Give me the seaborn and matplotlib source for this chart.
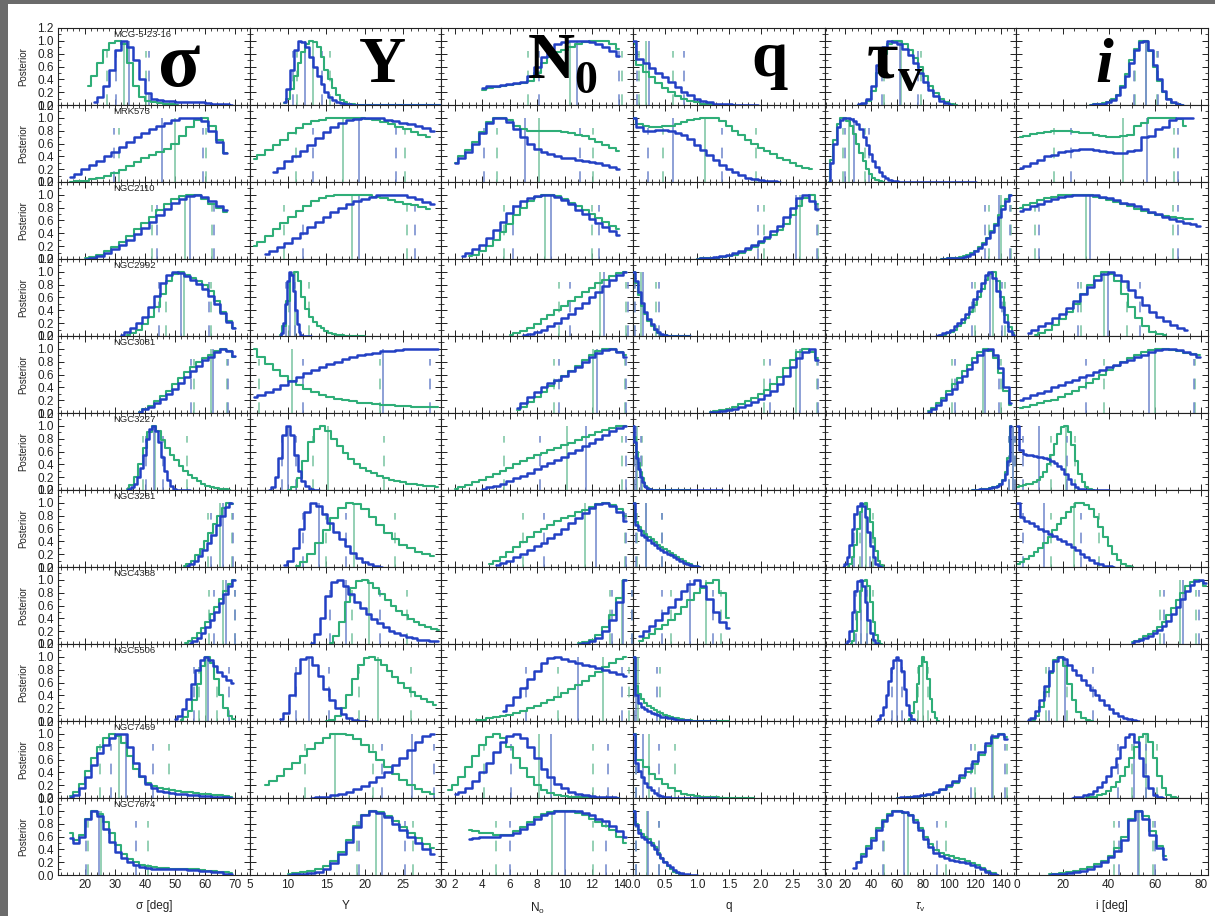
import matplotlib
matplotlib.use("Agg")
import matplotlib.pyplot as plt
import pandas as pd
import seaborn as sns
from matplotlib.patches import Rectangle
from matplotlib.ticker import MultipleLocator, FormatStrFormatter

GALAXIES = ["MCG-5-23-16", "MRK573", "NGC2110", "NGC2992", "NGC3081", "NGC3227",
            "NGC3281", "NGC4388", "NGC5506", "NGC7469", "NGC7674"]

AXIS_TITLES = ["σ [deg]", "Y", r"N$_{\rm o}$", "q", r"$\tau_{\rm v}$", "i [deg]"]

# Each histogram: (first bin centre, bin width, normalised heights, optional flat-tail end)
SIGMA_BLUE = [
    (23, 2, [0.05, 0.12, 0.3, 0.55, 0.85, 1.0, 0.9, 0.7, 0.4, 0.18, 0.1, 0.08, 0.07, 0.06, 0.05, 0.05, 0.04, 0.04, 0.04, 0.03, 0.02, 0.01, 0.01, 0.0], None),
    (15, 2.5, [0.08, 0.12, 0.2, 0.26, 0.32, 0.4, 0.47, 0.55, 0.62, 0.7, 0.77, 0.83, 0.88, 0.92, 0.96, 0.99, 1.0, 0.99, 0.95, 0.8, 0.62, 0.45], None),
    (20, 2.5, [0.0, 0.02, 0.05, 0.09, 0.15, 0.22, 0.3, 0.39, 0.48, 0.58, 0.68, 0.78, 0.87, 0.93, 0.98, 1.0, 0.97, 0.9, 0.83, 0.76], None),
    (32, 2, [0.02, 0.06, 0.12, 0.2, 0.3, 0.45, 0.63, 0.82, 0.95, 1.0, 0.98, 0.93, 0.88, 0.81, 0.73, 0.63, 0.5, 0.36, 0.22, 0.13], None),
    (38, 2, [0.02, 0.06, 0.1, 0.16, 0.22, 0.3, 0.38, 0.47, 0.56, 0.65, 0.74, 0.82, 0.88, 0.95, 1.0, 0.97, 0.89], None),
    (34, 1, [0.0, 0.02, 0.05, 0.1, 0.2, 0.35, 0.55, 0.8, 0.95, 1.0, 0.92, 0.75, 0.52, 0.3, 0.15, 0.06, 0.02, 0.0], 55),
    (54, 1.5, [0.02, 0.05, 0.1, 0.17, 0.26, 0.37, 0.5, 0.65, 0.8, 0.93, 1.0], None),
    (55, 1.5, [0.02, 0.05, 0.1, 0.17, 0.26, 0.37, 0.5, 0.64, 0.78, 0.9, 1.0], None),
    (50, 1.5, [0.03, 0.08, 0.18, 0.35, 0.58, 0.8, 0.95, 1.0, 0.95, 0.86, 0.77, 0.7, 0.64, 0.6], None),
    (15, 2, [0.01, 0.05, 0.15, 0.32, 0.52, 0.7, 0.83, 0.93, 0.99, 1.0, 0.8, 0.55, 0.35, 0.22, 0.15, 0.11, 0.09, 0.08, 0.07, 0.06, 0.05, 0.04, 0.03, 0.03, 0.02, 0.01, 0.01, 0.0], None),
    (15, 2, [0.58, 0.5, 0.6, 0.88, 1.0, 0.92, 0.72, 0.52, 0.36, 0.26, 0.2, 0.16, 0.13, 0.11, 0.1, 0.1, 0.1, 0.09, 0.09, 0.09, 0.08, 0.08, 0.07, 0.06, 0.05, 0.04, 0.02, 0.01], None),
]
SIGMA_GREEN = [
    (21, 2, [0.3, 0.45, 0.65, 0.85, 0.97, 1.0, 0.95, 0.65, 0.3, 0.12, 0.06, 0.04, 0.03, 0.02, 0.01, 0.0], None),
    (15, 2.5, [0.0, 0.01, 0.02, 0.04, 0.07, 0.1, 0.14, 0.19, 0.25, 0.31, 0.37, 0.42, 0.47, 0.52, 0.6, 0.72, 0.85, 0.97, 1.0, 0.88, 0.65, 0.45], None),
    (20, 2.5, [0.01, 0.03, 0.07, 0.12, 0.19, 0.27, 0.36, 0.46, 0.56, 0.66, 0.76, 0.85, 0.93, 0.98, 1.0, 0.99, 0.93, 0.86, 0.8, 0.74], None),
    (34, 2, [0.02, 0.05, 0.1, 0.18, 0.3, 0.45, 0.65, 0.85, 0.97, 1.0, 0.95, 0.9, 0.85, 0.79, 0.7, 0.55, 0.38, 0.23, 0.13], None),
    (38, 2, [0.02, 0.06, 0.11, 0.18, 0.26, 0.35, 0.45, 0.55, 0.64, 0.72, 0.8, 0.86, 0.9, 0.96, 1.0, 0.96, 0.88], None),
    (34, 1.5, [0.02, 0.08, 0.2, 0.4, 0.65, 0.9, 1.0, 0.92, 0.78, 0.65, 0.55, 0.46, 0.38, 0.3, 0.24, 0.19, 0.14, 0.1, 0.07, 0.05, 0.03, 0.02, 0.01, 0.0], None),
    (53, 1.5, [0.02, 0.05, 0.1, 0.18, 0.28, 0.4, 0.53, 0.67, 0.8, 0.92, 1.0, 0.98], None),
    (53.5, 1.5, [0.02, 0.05, 0.1, 0.17, 0.25, 0.35, 0.46, 0.58, 0.7, 0.82, 0.93, 1.0], None),
    (52, 1.5, [0.02, 0.06, 0.15, 0.32, 0.58, 0.85, 1.0, 0.9, 0.65, 0.4, 0.2, 0.08, 0.03], None),
    (15, 2, [0.03, 0.1, 0.22, 0.42, 0.63, 0.8, 0.93, 1.0, 0.97, 0.85, 0.65, 0.45, 0.32, 0.24, 0.19, 0.16, 0.14, 0.12, 0.11, 0.1, 0.09, 0.08, 0.07, 0.06, 0.05, 0.04, 0.03, 0.02], None),
    (15, 2, [0.65, 0.55, 0.62, 0.88, 1.0, 0.95, 0.82, 0.65, 0.47, 0.33, 0.25, 0.2, 0.16, 0.14, 0.12, 0.11, 0.11, 0.1, 0.1, 0.1, 0.1, 0.09, 0.08, 0.07, 0.06, 0.05, 0.04, 0.03], None),
]

Y_BLUE = [
    (9.5, 0.5, [0.05, 0.25, 0.55, 0.85, 1.0, 0.98, 0.9, 0.75, 0.6, 0.45, 0.32, 0.2, 0.13, 0.08, 0.05, 0.03, 0.02, 0.01, 0.0], 30),
    (8, 1, [0.15, 0.22, 0.32, 0.4, 0.48, 0.58, 0.68, 0.78, 0.86, 0.92, 0.96, 0.98, 1.0, 1.0, 0.99, 0.97, 0.95, 0.92, 0.9, 0.87, 0.84, 0.8], None),
    (7, 1, [0.08, 0.12, 0.18, 0.25, 0.33, 0.41, 0.5, 0.58, 0.66, 0.74, 0.8, 0.86, 0.9, 0.94, 0.97, 0.99, 1.0, 1.0, 0.99, 0.96, 0.93, 0.89, 0.85], None),
    (9, 0.25, [0.0, 0.05, 0.2, 0.5, 0.85, 1.0, 0.95, 0.7, 0.4, 0.18, 0.07, 0.02, 0.0], 13),
    (5.5, 1, [0.25, 0.28, 0.32, 0.37, 0.43, 0.5, 0.56, 0.62, 0.67, 0.72, 0.76, 0.8, 0.84, 0.87, 0.9, 0.92, 0.94, 0.96, 0.97, 0.98, 0.99, 0.99, 1.0, 1.0, 1.0], None),
    (7.5, 0.5, [0.0, 0.05, 0.2, 0.5, 0.85, 1.0, 0.85, 0.55, 0.3, 0.14, 0.06, 0.02, 0.0], 14),
    (9.5, 0.75, [0.03, 0.1, 0.3, 0.6, 0.85, 1.0, 0.95, 0.82, 0.68, 0.55, 0.43, 0.32, 0.22, 0.14, 0.08, 0.04, 0.02, 0.0], None),
    (13, 0.75, [0.02, 0.15, 0.4, 0.75, 0.97, 1.0, 0.9, 0.78, 0.66, 0.56, 0.47, 0.39, 0.32, 0.26, 0.21, 0.17, 0.14, 0.11, 0.09, 0.07, 0.06, 0.05, 0.04], None),
    (9, 0.75, [0.03, 0.12, 0.4, 0.75, 0.97, 1.0, 0.88, 0.7, 0.5, 0.33, 0.2, 0.11, 0.05, 0.02, 0.0, 0.0], None),
    (13, 1, [0.0, 0.01, 0.02, 0.04, 0.07, 0.1, 0.14, 0.19, 0.25, 0.32, 0.41, 0.52, 0.63, 0.75, 0.87, 0.96, 1.0], None),
    (10, 1, [0.0, 0.01, 0.02, 0.03, 0.05, 0.1, 0.18, 0.32, 0.52, 0.75, 0.93, 1.0, 0.97, 0.9, 0.8, 0.7, 0.6, 0.5, 0.41, 0.33], None),
]
Y_GREEN = [
    (9.5, 0.5, [0.03, 0.1, 0.25, 0.45, 0.65, 0.82, 0.95, 1.0, 0.98, 0.9, 0.75, 0.55, 0.4, 0.26, 0.15, 0.08, 0.04, 0.02, 0.01, 0.0], 30),
    (5.5, 1, [0.36, 0.42, 0.5, 0.58, 0.66, 0.76, 0.84, 0.9, 0.95, 0.97, 0.99, 1.0, 1.0, 1.0, 0.99, 0.98, 0.96, 0.93, 0.9, 0.86, 0.82, 0.78, 0.74, 0.7], None),
    (5.5, 1, [0.2, 0.27, 0.36, 0.46, 0.56, 0.66, 0.75, 0.83, 0.9, 0.95, 0.98, 1.0, 1.0, 1.0, 1.0, 0.99, 0.97, 0.95, 0.92, 0.89, 0.86, 0.84, 0.81, 0.78], None),
    (9, 0.5, [0.02, 0.15, 0.55, 0.95, 1.0, 0.85, 0.6, 0.42, 0.3, 0.22, 0.16, 0.12, 0.08, 0.05, 0.03, 0.02, 0.01, 0.0], 20),
    (5.5, 1, [1.0, 0.88, 0.77, 0.67, 0.58, 0.5, 0.43, 0.37, 0.32, 0.28, 0.25, 0.22, 0.2, 0.18, 0.16, 0.15, 0.14, 0.13, 0.12, 0.11, 0.11, 0.1, 0.1, 0.1, 0.1], None),
    (10, 0.75, [0.0, 0.05, 0.18, 0.45, 0.75, 0.95, 1.0, 0.92, 0.8, 0.68, 0.57, 0.48, 0.41, 0.35, 0.3, 0.26, 0.22, 0.19, 0.16, 0.14, 0.12, 0.1, 0.09, 0.08, 0.07, 0.06, 0.05], None),
    (11, 1, [0.02, 0.08, 0.2, 0.38, 0.58, 0.77, 0.92, 1.0, 0.98, 0.9, 0.78, 0.65, 0.53, 0.43, 0.35, 0.29, 0.24, 0.2, 0.17], None),
    (15.5, 0.75, [0.02, 0.12, 0.35, 0.65, 0.88, 0.98, 1.0, 0.95, 0.87, 0.78, 0.69, 0.6, 0.52, 0.45, 0.39, 0.34, 0.3, 0.27, 0.24, 0.22], None),
    (15, 0.75, [0.0, 0.02, 0.08, 0.2, 0.4, 0.65, 0.88, 0.98, 1.0, 0.95, 0.87, 0.78, 0.69, 0.6, 0.52, 0.45, 0.39, 0.34, 0.29, 0.25], None),
    (7, 1, [0.2, 0.27, 0.35, 0.45, 0.55, 0.66, 0.76, 0.86, 0.94, 0.99, 1.0, 0.98, 0.92, 0.83, 0.72, 0.6, 0.48, 0.37, 0.28, 0.2, 0.14, 0.1, 0.07], None),
    (10, 1, [0.02, 0.03, 0.04, 0.06, 0.09, 0.14, 0.22, 0.36, 0.55, 0.77, 0.93, 1.0, 0.98, 0.92, 0.84, 0.75, 0.66, 0.57, 0.49, 0.42], None),
]

N0_BLUE = [
    (4, 0.5, [0.27, 0.29, 0.3, 0.31, 0.33, 0.34, 0.36, 0.45, 0.6, 0.75, 0.88, 0.95, 0.98, 1.0, 1.0, 1.0, 0.98, 0.95, 0.9, 0.84, 0.76], None),
    (2, 0.5, [0.3, 0.38, 0.47, 0.6, 0.76, 0.92, 1.0, 1.0, 0.93, 0.82, 0.7, 0.6, 0.52, 0.47, 0.43, 0.4, 0.38, 0.37, 0.35, 0.33, 0.31, 0.29, 0.27, 0.24, 0.21], None),
    (2.5, 0.5, [0.05, 0.1, 0.15, 0.22, 0.32, 0.45, 0.58, 0.72, 0.83, 0.9, 0.95, 0.98, 1.0, 1.0, 0.97, 0.92, 0.85, 0.77, 0.7, 0.63, 0.56, 0.5, 0.44, 0.38], None),
    (7, 0.5, [0.01, 0.03, 0.06, 0.1, 0.15, 0.21, 0.28, 0.35, 0.43, 0.52, 0.6, 0.69, 0.78, 0.87, 0.95, 1.0], None),
    (6.5, 0.5, [0.08, 0.15, 0.25, 0.33, 0.4, 0.46, 0.52, 0.58, 0.65, 0.72, 0.8, 0.88, 0.94, 0.98, 1.0, 0.95, 0.88], None),
    (4, 0.5, [0.02, 0.04, 0.07, 0.1, 0.14, 0.18, 0.22, 0.27, 0.32, 0.37, 0.42, 0.47, 0.52, 0.57, 0.62, 0.68, 0.74, 0.8, 0.86, 0.92, 0.97, 1.0], None),
    (5, 0.5, [0.03, 0.06, 0.1, 0.15, 0.2, 0.26, 0.32, 0.38, 0.45, 0.52, 0.6, 0.68, 0.76, 0.84, 0.92, 0.98, 1.0, 0.95, 0.85, 0.72], None),
    (11, 0.5, [0.0, 0.02, 0.05, 0.1, 0.2, 0.38, 0.65, 1.0], None),
    (5.5, 0.5, [0.15, 0.25, 0.38, 0.52, 0.65, 0.78, 0.9, 0.98, 1.0, 0.97, 0.94, 0.91, 0.88, 0.85, 0.82, 0.8, 0.77, 0.74, 0.7], None),
    (2, 0.5, [0.06, 0.1, 0.16, 0.26, 0.4, 0.55, 0.72, 0.87, 0.97, 1.0, 0.93, 0.8, 0.62, 0.45, 0.32, 0.22, 0.15, 0.1, 0.07, 0.05, 0.03, 0.02, 0.01, 0.01, 0.0], None),
    (3, 0.5, [0.56, 0.58, 0.6, 0.6, 0.6, 0.62, 0.62, 0.66, 0.72, 0.8, 0.88, 0.93, 0.97, 1.0, 1.0, 1.0, 0.99, 0.97, 0.93, 0.88, 0.84, 0.77, 0.68, 0.6], None),
]
N0_GREEN = [
    (4, 0.5, [0.24, 0.26, 0.28, 0.3, 0.31, 0.32, 0.34, 0.38, 0.5, 0.65, 0.75, 0.82, 0.86, 0.9, 0.95, 0.98, 1.0, 1.0, 0.99, 0.95, 0.88], None),
    (2, 0.5, [0.3, 0.4, 0.5, 0.63, 0.78, 0.93, 1.0, 1.0, 0.96, 0.88, 0.82, 0.8, 0.8, 0.8, 0.79, 0.79, 0.78, 0.77, 0.74, 0.71, 0.67, 0.62, 0.58, 0.53, 0.48], None),
    (3, 0.5, [0.04, 0.07, 0.12, 0.2, 0.3, 0.42, 0.55, 0.68, 0.8, 0.9, 0.96, 1.0, 1.0, 0.98, 0.94, 0.88, 0.82, 0.76, 0.7, 0.64, 0.58, 0.52, 0.47], None),
    (6, 0.5, [0.01, 0.04, 0.08, 0.13, 0.19, 0.26, 0.33, 0.4, 0.47, 0.54, 0.61, 0.68, 0.75, 0.82, 0.88, 0.94, 0.98, 1.0], None),
    (6.5, 0.5, [0.05, 0.1, 0.17, 0.25, 0.33, 0.42, 0.5, 0.58, 0.66, 0.74, 0.82, 0.9, 0.96, 1.0, 0.99, 0.95, 0.9], None),
    (2, 0.5, [0.02, 0.05, 0.08, 0.12, 0.16, 0.2, 0.25, 0.3, 0.35, 0.4, 0.45, 0.5, 0.54, 0.58, 0.62, 0.66, 0.7, 0.74, 0.78, 0.82, 0.86, 0.9, 0.94, 0.97, 0.99, 1.0], None),
    (4.5, 0.5, [0.05, 0.1, 0.16, 0.23, 0.31, 0.39, 0.47, 0.54, 0.6, 0.66, 0.71, 0.76, 0.8, 0.85, 0.89, 0.94, 0.98, 1.0, 0.97, 0.9, 0.8], None),
    (11, 0.5, [0.01, 0.03, 0.07, 0.14, 0.26, 0.45, 0.72, 1.0], None),
    (3.5, 0.5, [0.01, 0.02, 0.04, 0.06, 0.08, 0.1, 0.13, 0.16, 0.2, 0.24, 0.28, 0.33, 0.38, 0.44, 0.5, 0.56, 0.63, 0.7, 0.77, 0.84, 0.91, 0.97, 1.0], None),
    (1.5, 0.5, [0.12, 0.2, 0.32, 0.48, 0.65, 0.82, 0.95, 1.0, 0.93, 0.8, 0.63, 0.46, 0.32, 0.21, 0.13, 0.08, 0.05, 0.03, 0.02, 0.01, 0.01, 0.0], 14),
    (3, 0.5, [0.7, 0.68, 0.66, 0.65, 0.63, 0.62, 0.63, 0.68, 0.75, 0.83, 0.9, 0.95, 0.98, 1.0, 1.0, 0.99, 0.97, 0.93, 0.87, 0.82, 0.76, 0.7, 0.6, 0.5], None),
]

Q_BLUE = [
    (0, 0.1, [1.0, 0.72, 0.65, 0.58, 0.5, 0.43, 0.36, 0.28, 0.21, 0.15, 0.1, 0.06, 0.04, 0.02, 0.01, 0.01, 0.0], 1.95),
    (0, 0.1, [1.0, 0.86, 0.8, 0.8, 0.81, 0.81, 0.8, 0.77, 0.73, 0.67, 0.58, 0.5, 0.42, 0.34, 0.27, 0.21, 0.16, 0.11, 0.07, 0.05, 0.03, 0.02, 0.01, 0.0], None),
    (1.0, 0.1, [0.0, 0.01, 0.02, 0.03, 0.05, 0.07, 0.1, 0.13, 0.17, 0.22, 0.28, 0.35, 0.43, 0.52, 0.65, 0.8, 0.95, 1.0, 0.9, 0.78], None),
    (0, 0.05, [1.0, 0.85, 0.68, 0.52, 0.38, 0.27, 0.18, 0.11, 0.06, 0.03, 0.01, 0.0], 0.9),
    (1.2, 0.1, [0.01, 0.02, 0.03, 0.05, 0.07, 0.1, 0.13, 0.17, 0.22, 0.28, 0.35, 0.45, 0.58, 0.72, 0.85, 0.95, 1.0, 0.82], None),
    (0, 0.03, [1.0, 0.75, 0.5, 0.32, 0.2, 0.12, 0.07, 0.04, 0.02, 0.01, 0.0], 1.4),
    (0, 0.05, [1.0, 0.65, 0.57, 0.5, 0.46, 0.42, 0.38, 0.34, 0.3, 0.27, 0.24, 0.21, 0.18, 0.15, 0.12, 0.09, 0.07, 0.05, 0.03, 0.02, 0.01, 0.0], None),
    (0.1, 0.1, [0.12, 0.2, 0.28, 0.38, 0.48, 0.58, 0.7, 0.82, 0.93, 1.0, 0.9, 0.7, 0.5, 0.35, 0.25], None),
    (0, 0.05, [1.0, 0.4, 0.28, 0.22, 0.18, 0.15, 0.13, 0.11, 0.09, 0.07, 0.06, 0.05, 0.04, 0.03, 0.02, 0.02, 0.01, 0.01, 0.0], 1.3),
    (0, 0.05, [1.0, 0.55, 0.42, 0.32, 0.24, 0.17, 0.12, 0.08, 0.05, 0.03, 0.02, 0.01, 0.0], 1.3),
    (0, 0.05, [1.0, 0.78, 0.66, 0.6, 0.56, 0.51, 0.46, 0.4, 0.33, 0.27, 0.21, 0.16, 0.12, 0.08, 0.05, 0.03, 0.02, 0.01, 0.0], 1.0),
]
Q_GREEN = [
    (0, 0.1, [0.95, 0.62, 0.52, 0.43, 0.35, 0.27, 0.2, 0.14, 0.1, 0.06, 0.04, 0.02, 0.01, 0.0], 1.6),
    (0, 0.1, [1.0, 0.9, 0.87, 0.86, 0.86, 0.87, 0.88, 0.9, 0.93, 0.96, 0.98, 0.99, 1.0, 0.99, 0.95, 0.87, 0.8, 0.73, 0.66, 0.59, 0.53, 0.48, 0.43, 0.38, 0.34, 0.29, 0.25, 0.22, 0.2], None),
    (1.0, 0.1, [0.0, 0.01, 0.01, 0.02, 0.03, 0.05, 0.07, 0.1, 0.14, 0.19, 0.25, 0.31, 0.38, 0.45, 0.55, 0.68, 0.82, 0.95, 1.0, 0.85], None),
    (0, 0.05, [1.0, 0.82, 0.64, 0.47, 0.34, 0.23, 0.15, 0.09, 0.05, 0.02, 0.01, 0.0], 0.9),
    (1.2, 0.1, [0.02, 0.03, 0.05, 0.07, 0.1, 0.14, 0.18, 0.23, 0.29, 0.36, 0.45, 0.56, 0.7, 0.83, 0.95, 1.0, 0.95, 0.85], None),
    (0, 0.03, [1.0, 0.82, 0.6, 0.42, 0.28, 0.18, 0.11, 0.06, 0.03, 0.01, 0.0], 0.9),
    (0, 0.05, [1.0, 0.7, 0.62, 0.56, 0.51, 0.47, 0.43, 0.39, 0.35, 0.31, 0.28, 0.25, 0.22, 0.18, 0.15, 0.12, 0.09, 0.06, 0.04, 0.02, 0.01, 0.0], None),
    (0.1, 0.1, [0.05, 0.1, 0.16, 0.23, 0.3, 0.38, 0.47, 0.57, 0.68, 0.8, 0.88, 0.95, 1.0, 0.8, 0.4], None),
    (0, 0.05, [1.0, 0.55, 0.42, 0.34, 0.28, 0.24, 0.2, 0.17, 0.14, 0.12, 0.1, 0.08, 0.06, 0.05, 0.04, 0.03, 0.02, 0.01, 0.01, 0.0], 1.5),
    (0, 0.1, [1.0, 0.6, 0.48, 0.38, 0.3, 0.22, 0.16, 0.11, 0.07, 0.05, 0.03, 0.02, 0.01, 0.01, 0.0], 1.9),
    (0, 0.05, [1.0, 0.8, 0.7, 0.64, 0.6, 0.56, 0.5, 0.43, 0.35, 0.27, 0.2, 0.14, 0.09, 0.05, 0.03, 0.01, 0.0], None),
]

TAU_BLUE = [
    (30, 4, [0.01, 0.03, 0.1, 0.3, 0.62, 0.9, 1.0, 0.98, 0.95, 0.88, 0.78, 0.65, 0.5, 0.36, 0.24, 0.14, 0.07, 0.03, 0.0], None),
    (7, 2.5, [0.0, 0.3, 0.6, 0.85, 0.96, 1.0, 1.0, 0.98, 0.95, 0.9, 0.82, 0.7, 0.57, 0.44, 0.33, 0.23, 0.15, 0.1, 0.06, 0.03, 0.02, 0.01, 0.0], 121),
    (94, 3, [0.0, 0.0, 0.01, 0.01, 0.01, 0.02, 0.03, 0.05, 0.08, 0.12, 0.17, 0.24, 0.32, 0.42, 0.53, 0.65, 0.78, 0.9, 1.0], None),
    (90, 3, [0.0, 0.02, 0.04, 0.07, 0.1, 0.15, 0.2, 0.27, 0.35, 0.45, 0.57, 0.7, 0.83, 0.95, 1.0, 0.9, 0.7, 0.45, 0.22, 0.08, 0.02], None),
    (84, 4, [0.02, 0.06, 0.12, 0.2, 0.29, 0.38, 0.48, 0.58, 0.68, 0.79, 0.9, 0.98, 1.0, 0.9, 0.7, 0.4, 0.15], None),
    (118, 2, [0.0, 0.0, 0.0, 0.01, 0.01, 0.02, 0.02, 0.03, 0.04, 0.05, 0.07, 0.1, 0.15, 0.25, 0.45, 1.0], None),
    (18, 2, [0.0, 0.05, 0.15, 0.35, 0.6, 0.82, 0.95, 1.0, 0.95, 0.78, 0.55, 0.32, 0.15, 0.05, 0.01, 0.0], None),
    (20, 2, [0.0, 0.05, 0.2, 0.5, 0.82, 0.98, 1.0, 0.9, 0.65, 0.38, 0.17, 0.06, 0.01, 0.0], None),
    (44, 2, [0.0, 0.03, 0.1, 0.22, 0.4, 0.62, 0.82, 0.95, 1.0, 0.95, 0.78, 0.5, 0.25, 0.1, 0.03, 0.0], None),
    (60, 5, [0.0, 0.01, 0.02, 0.03, 0.05, 0.07, 0.1, 0.14, 0.2, 0.27, 0.36, 0.46, 0.58, 0.72, 0.86, 0.97, 1.0, 0.92], None),
    (26, 4, [0.11, 0.2, 0.3, 0.42, 0.55, 0.7, 0.84, 0.94, 1.0, 1.0, 0.98, 0.93, 0.83, 0.7, 0.56, 0.44, 0.34, 0.29, 0.26, 0.24, 0.22, 0.2, 0.18, 0.16, 0.13, 0.09, 0.05, 0.02, 0.0], None),
]
TAU_GREEN = [
    (30, 4, [0.0, 0.02, 0.07, 0.22, 0.5, 0.8, 0.95, 1.0, 1.0, 0.95, 0.86, 0.74, 0.6, 0.45, 0.3, 0.18, 0.09, 0.04, 0.01, 0.0], None),
    (7, 2.5, [0.0, 0.35, 0.65, 0.9, 1.0, 1.0, 0.95, 0.87, 0.75, 0.6, 0.45, 0.32, 0.2, 0.12, 0.07, 0.03, 0.01, 0.0], None),
    (94, 3, [0.0, 0.0, 0.01, 0.01, 0.02, 0.03, 0.04, 0.06, 0.09, 0.13, 0.18, 0.25, 0.33, 0.43, 0.55, 0.68, 0.82, 0.93, 1.0], None),
    (93, 3, [0.01, 0.02, 0.04, 0.07, 0.1, 0.15, 0.21, 0.28, 0.37, 0.48, 0.6, 0.74, 0.87, 0.97, 1.0, 0.85, 0.6, 0.33, 0.14, 0.04], None),
    (84, 4, [0.03, 0.08, 0.15, 0.24, 0.34, 0.45, 0.55, 0.65, 0.75, 0.85, 0.95, 1.0, 0.97, 0.85, 0.62, 0.35, 0.12], None),
    (118, 2, [0.0, 0.0, 0.0, 0.0, 0.01, 0.01, 0.02, 0.03, 0.04, 0.05, 0.07, 0.1, 0.16, 0.28, 0.5, 1.0], None),
    (22, 2, [0.0, 0.05, 0.15, 0.35, 0.6, 0.85, 0.98, 1.0, 0.9, 0.7, 0.45, 0.25, 0.1, 0.03, 0.0], None),
    (24, 2, [0.0, 0.05, 0.2, 0.5, 0.82, 0.98, 1.0, 0.9, 0.65, 0.35, 0.14, 0.04, 0.0], None),
    (68, 2, [0.0, 0.03, 0.12, 0.3, 0.58, 0.85, 1.0, 0.92, 0.65, 0.35, 0.14, 0.04, 0.0], None),
    (60, 5, [0.0, 0.0, 0.01, 0.02, 0.03, 0.05, 0.08, 0.12, 0.17, 0.23, 0.31, 0.41, 0.53, 0.67, 0.81, 0.93, 1.0, 0.95], None),
    (30, 4, [0.2, 0.32, 0.45, 0.58, 0.73, 0.86, 0.95, 1.0, 1.0, 0.97, 0.93, 0.85, 0.73, 0.6, 0.48, 0.39, 0.34, 0.31, 0.29, 0.27, 0.25, 0.22, 0.19, 0.15, 0.11, 0.07, 0.03, 0.0], None),
]

INC_BLUE = [
    (32, 2, [0.0, 0.01, 0.01, 0.02, 0.04, 0.08, 0.15, 0.28, 0.45, 0.66, 0.86, 0.98, 1.0, 0.85, 0.62, 0.4, 0.22, 0.1, 0.04, 0.01, 0.0], None),
    (1.5, 3, [0.22, 0.25, 0.3, 0.34, 0.4, 0.42, 0.46, 0.48, 0.5, 0.52, 0.52, 0.5, 0.48, 0.47, 0.45, 0.45, 0.48, 0.5, 0.7, 0.72, 0.82, 0.86, 0.97, 1.0, 1.0, 1.0], None),
    (1.5, 3, [0.75, 0.78, 0.82, 0.86, 0.9, 0.93, 0.96, 0.98, 1.0, 1.0, 1.0, 0.99, 0.97, 0.95, 0.92, 0.88, 0.85, 0.82, 0.78, 0.74, 0.7, 0.66, 0.62, 0.59, 0.56, 0.54, 0.52], None),
    (5, 3, [0.05, 0.1, 0.15, 0.21, 0.28, 0.35, 0.44, 0.54, 0.65, 0.77, 0.88, 0.97, 1.0, 0.95, 0.85, 0.72, 0.6, 0.48, 0.38, 0.3, 0.23, 0.17, 0.13, 0.1], None),
    (1.5, 3, [0.2, 0.24, 0.28, 0.31, 0.35, 0.4, 0.43, 0.48, 0.51, 0.56, 0.59, 0.64, 0.67, 0.72, 0.75, 0.8, 0.83, 0.88, 0.91, 0.95, 0.98, 1.0, 1.0, 0.98, 0.95, 0.92, 0.88], None),
    (0.5, 1.5, [1.0, 0.62, 0.56, 0.55, 0.54, 0.53, 0.52, 0.51, 0.5, 0.48, 0.45, 0.42, 0.38, 0.32, 0.25, 0.17, 0.1, 0.05, 0.02, 0.01, 0.0], 40),
    (0.5, 2, [1.0, 0.78, 0.72, 0.68, 0.64, 0.6, 0.56, 0.52, 0.48, 0.44, 0.4, 0.36, 0.31, 0.26, 0.21, 0.16, 0.11, 0.07, 0.04, 0.02, 0.01, 0.0], None),
    (50, 2, [0.02, 0.04, 0.07, 0.1, 0.13, 0.17, 0.22, 0.28, 0.36, 0.46, 0.58, 0.7, 0.82, 0.92, 0.98, 1.0, 0.95], None),
    (5, 2, [0.01, 0.05, 0.15, 0.32, 0.55, 0.78, 0.93, 1.0, 0.97, 0.88, 0.8, 0.72, 0.64, 0.56, 0.48, 0.4, 0.32, 0.25, 0.18, 0.12, 0.08, 0.05, 0.03, 0.01, 0.0], None),
    (24, 2, [0.0, 0.01, 0.02, 0.04, 0.07, 0.11, 0.17, 0.25, 0.35, 0.48, 0.63, 0.8, 0.95, 1.0, 0.88, 0.62, 0.35, 0.15, 0.05, 0.01, 0.0], None),
    (14, 3, [0.0, 0.01, 0.02, 0.03, 0.05, 0.07, 0.1, 0.14, 0.2, 0.28, 0.38, 0.55, 0.85, 1.0, 0.88, 0.62, 0.42, 0.25], None),
]
INC_GREEN = [
    (32, 2, [0.0, 0.01, 0.02, 0.03, 0.05, 0.09, 0.16, 0.3, 0.48, 0.7, 0.88, 0.99, 1.0, 0.84, 0.6, 0.38, 0.2, 0.09, 0.03, 0.01, 0.0], None),
    (1.5, 3, [0.7, 0.72, 0.75, 0.76, 0.78, 0.8, 0.8, 0.79, 0.78, 0.77, 0.76, 0.73, 0.72, 0.7, 0.7, 0.72, 0.73, 0.88, 0.92, 1.0, 1.0, 1.0, 1.0, 0.98, 0.88], None),
    (1.5, 3, [0.8, 0.84, 0.88, 0.92, 0.95, 0.97, 0.99, 1.0, 1.0, 1.0, 0.99, 0.97, 0.95, 0.92, 0.89, 0.86, 0.82, 0.78, 0.75, 0.72, 0.69, 0.67, 0.65, 0.64, 0.63, 0.62], None),
    (8, 3, [0.02, 0.05, 0.1, 0.17, 0.26, 0.37, 0.5, 0.65, 0.8, 0.93, 1.0, 0.97, 0.85, 0.65, 0.45, 0.28, 0.15, 0.07, 0.03, 0.01], None),
    (1.5, 3, [0.08, 0.1, 0.12, 0.15, 0.18, 0.21, 0.25, 0.29, 0.34, 0.4, 0.46, 0.53, 0.6, 0.67, 0.74, 0.8, 0.86, 0.91, 0.95, 0.98, 1.0, 1.0, 0.98, 0.96, 0.94, 0.92, 0.9], None),
    (0.5, 1.5, [0.05, 0.07, 0.08, 0.09, 0.1, 0.12, 0.15, 0.2, 0.28, 0.4, 0.55, 0.72, 0.88, 0.98, 1.0, 0.9, 0.7, 0.45, 0.25, 0.12, 0.05, 0.02, 0.0], None),
    (0.5, 2, [0.05, 0.08, 0.12, 0.17, 0.23, 0.3, 0.38, 0.47, 0.57, 0.67, 0.77, 0.86, 0.94, 0.99, 1.0, 0.97, 0.9, 0.78, 0.63, 0.47, 0.32, 0.2, 0.11, 0.05, 0.02, 0.0], None),
    (50, 2, [0.03, 0.05, 0.08, 0.12, 0.16, 0.21, 0.27, 0.35, 0.45, 0.56, 0.68, 0.8, 0.9, 0.97, 1.0, 0.98, 0.9], None),
    (7, 2, [0.02, 0.08, 0.22, 0.45, 0.75, 0.95, 1.0, 0.85, 0.58, 0.32, 0.14, 0.05, 0.01, 0.0], None),
    (30, 2, [0.0, 0.01, 0.02, 0.04, 0.07, 0.11, 0.17, 0.25, 0.35, 0.48, 0.63, 0.8, 0.95, 1.0, 0.88, 0.62, 0.35, 0.15, 0.05, 0.01, 0.0], None),
    (14, 3, [0.01, 0.02, 0.03, 0.05, 0.07, 0.1, 0.13, 0.17, 0.22, 0.3, 0.42, 0.6, 0.88, 1.0, 0.92, 0.68, 0.45, 0.3], None),
]

# Summary markers per galaxy: (median, lower bound, upper bound)
SIGMA_MARK_BLUE = [(34.6, 30.5, 41.5), (45.8, 29.6, 59.5), (55, 44, 63), (52.2, 44.8, 61.4), (62.6, 55.3, 67.8), (43, 40.5, 46), (66, 62, 69.5), (67, 63, 70), (61, 56.5, 68), (33.6, 28.6, 42.7), (24.6, 20.5, 37)]
SIGMA_MARK_GREEN = [(33, 27.5, 40.5), (50.2, 31.3, 60.3), (53.5, 42.5, 62.5), (53, 47, 62), (62, 56.5, 67.5), (43.5, 39.5, 54), (65, 61, 69), (66, 61.5, 70), (60.5, 58, 64), (31.5, 25, 48), (25.3, 21, 41)]
Y_MARK_BLUE = [(12.2, 10.6, 14.4), (19.2, 13.3, 24.1), (19.2, 12, 26.5), (10.3, 9.8, 10.9), (22.4, 12, 28.5), (10, 9.2, 11), (14, 12, 17.5), (17.5, 15.5, 22), (12.8, 11, 15.3), (26.2, 22.2, 29), (22.2, 19.2, 25.2)]
Y_MARK_GREEN = [(13.3, 11.2, 15.5), (17.2, 11.1, 25.2), (18.3, 9.5, 25.5), (10.9, 10.1, 12.8), (10.5, 6.2, 22), (15.2, 13.3, 22.5), (18.6, 15, 24), (20.6, 18.3, 25.5), (21.8, 19.3, 26), (16.1, 12.2, 21.1), (21.5, 19, 26.3)]
N0_MARK_BLUE = [(10.9, 8.1, 14.0), (7.1, 4.1, 11.1), (9.0, 6.2, 12.5), (12.9, 10.4, 14.6), (12.4, 9.6, 14.5), (11.6, 8.2, 14.5), (12.3, 8.5, 14.5), (14.3, 13.5, 14.9), (11.0, 7.2, 14.2), (9.0, 6.1, 13.2), (10.0, 6.0, 13.0)]
N0_MARK_GREEN = [(10.4, 7.3, 14.2), (8.1, 5.1, 12.1), (8.6, 5.6, 12.0), (12.6, 9.6, 14.5), (12.1, 9.2, 14.4), (10.2, 5.6, 14.2), (11.5, 7.0, 14.4), (14.2, 13.3, 14.9), (12.8, 9.5, 14.7), (8.1, 4.1, 12.1), (9.1, 5.0, 12.1)]
Q_MARK_BLUE = [(0.25, 0.06, 0.8), (0.62, 0.24, 1.4), (2.55, 1.95, 2.88), (0.15, 0.03, 0.4), (2.62, 2.15, 2.9), (0.04, 0.01, 0.12), (0.2, 0.05, 0.45), (0.9, 0.45, 1.25), (0.05, 0.01, 0.38), (0.15, 0.04, 0.4), (0.23, 0.05, 0.41)]
Q_MARK_GREEN = [(0.2, 0.09, 0.63), (1.12, 0.47, 1.92), (2.62, 2.05, 2.9), (0.13, 0.02, 0.36), (2.55, 2.05, 2.88), (0.06, 0.02, 0.14), (0.2, 0.06, 0.46), (1.15, 0.6, 1.38), (0.08, 0.02, 0.42), (0.25, 0.05, 0.65), (0.22, 0.04, 0.4)]
TAU_MARK_BLUE = [(62, 48, 76), (26.6, 20, 38.6), (139, 128, 147), (132, 118, 141), (128, 105, 139), (149.5, 146, 151), (33, 27, 39), (32, 28, 37), (60, 56, 64), (133, 117, 143), (65.5, 49, 91)]
TAU_MARK_GREEN = [(63, 50, 78), (23, 18, 35), (140, 131, 148), (134, 120, 143), (126, 102, 140), (149.5, 146.5, 151), (36, 31, 41), (37, 32, 41), (80, 76, 84), (134, 120, 145), (68, 50, 98)]
INC_MARK_BLUE = [(56, 51, 61.5), (56.7, 23.6, 69.8), (32, 10, 70), (39.5, 26.5, 53.5), (57.5, 30, 77), (10, 3, 22), (12, 3, 28), (72, 64, 79), (21, 14, 33), (51, 44, 56), (52.5, 44.6, 60)]
INC_MARK_GREEN = [(56.3, 51.5, 61), (46, 16.5, 68.3), (30, 8, 68), (38, 28, 48), (60, 38, 77.5), (21.5, 15, 25.5), (25, 15, 36), (71, 62, 78), (17.5, 13, 22), (56, 50, 61), (53, 42.5, 59)]

# Column layout: data, axis range, tick spacing
COLUMNS = [
    (SIGMA_BLUE, SIGMA_GREEN, SIGMA_MARK_BLUE, SIGMA_MARK_GREEN, (11, 75), 10, 2, "%d"),
    (Y_BLUE, Y_GREEN, Y_MARK_BLUE, Y_MARK_GREEN, (5, 30), 5, 1, "%d"),
    (N0_BLUE, N0_GREEN, N0_MARK_BLUE, N0_MARK_GREEN, (1, 15), 2, 0.5, "%d"),
    (Q_BLUE, Q_GREEN, Q_MARK_BLUE, Q_MARK_GREEN, (0, 3), 0.5, 0.1, "%.1f"),
    (TAU_BLUE, TAU_GREEN, TAU_MARK_BLUE, TAU_MARK_GREEN, (4, 152), 20, 5, "%d"),
    (INC_BLUE, INC_GREEN, INC_MARK_BLUE, INC_MARK_GREEN, (0, 83), 20, 5, "%d"),
]

BLUE, GREEN = "#2340c4", "#2fae78"
BLUE_V, GREEN_V = "#6f86cc", "#78c3a0"

sns.set_theme(style="white")
plt.rcParams["font.family"] = ["Liberation Sans", "DejaVu Sans"]
plt.rcParams["mathtext.fontset"] = "custom"
plt.rcParams["mathtext.rm"] = "Liberation Sans"
plt.rcParams["mathtext.it"] = "Liberation Sans:italic"
plt.rcParams["mathtext.bf"] = "Liberation Serif:bold"

W, H = 1215, 916
fig = plt.figure(figsize=(W / 100, H / 100), dpi=100, facecolor="white")
fig.patches.append(Rectangle((0, 0), 8 / W, 1, transform=fig.transFigure,
                             facecolor="#6b6b6b", edgecolor="none", zorder=0))
fig.patches.append(Rectangle((0, 1 - 4 / H), 1, 4 / H, transform=fig.transFigure,
                             facecolor="#6b6b6b", edgecolor="none", zorder=0))

gs = fig.add_gridspec(11, 6, left=58 / W, right=1208 / W, top=1 - 28 / H,
                      bottom=1 - 875 / H, wspace=0, hspace=0)


def step_frame(rec):
    start, width, heights, tail = rec
    xs = [start + width * k for k in range(len(heights))]
    ys = list(heights)
    if tail is not None:
        xs.append(tail)
        ys.append(heights[-1])
    return pd.DataFrame({"x": xs, "y": ys})


def draw_marks(ax, mark, color):
    med, lo, hi = mark
    ax.vlines([med], 0, 1.0, color=color, lw=1.1, zorder=1)
    ax.vlines([lo, hi], 0, 0.84, color=color, lw=1.1, zorder=1,
              linestyles=[(0, (7, 8.5))])


for c, (blue, green, mblue, mgreen, lim, major, minor, fmt) in enumerate(COLUMNS):
    for r, name in enumerate(GALAXIES):
        ax = fig.add_subplot(gs[r, c])
        draw_marks(ax, mgreen[r], GREEN_V)
        draw_marks(ax, mblue[r], BLUE_V)
        sns.lineplot(data=step_frame(green[r]), x="x", y="y", ax=ax, color=GREEN,
                     lw=1.5, drawstyle="steps-mid", estimator=None, sort=False, zorder=2)
        sns.lineplot(data=step_frame(blue[r]), x="x", y="y", ax=ax, color=BLUE,
                     lw=1.8, drawstyle="steps-mid", estimator=None, sort=False, zorder=3)
        ax.set_xlim(*lim)
        ax.set_ylim(0, 1.2)
        ax.set_xlabel("")
        ax.set_ylabel("")
        ax.xaxis.set_major_locator(MultipleLocator(major))
        ax.xaxis.set_minor_locator(MultipleLocator(minor))
        ax.xaxis.set_major_formatter(FormatStrFormatter(fmt))
        ax.yaxis.set_major_locator(MultipleLocator(0.2))
        ax.yaxis.set_minor_locator(MultipleLocator(0.1))
        ax.yaxis.set_major_formatter(FormatStrFormatter("%.1f"))
        ax.tick_params(which="both", direction="in", top=True, bottom=True,
                       left=True, right=True, colors="#222222", labelcolor="#222222",
                       labelsize=8.5, pad=3)
        ax.tick_params(which="major", length=4, width=0.7)
        ax.tick_params(which="minor", length=2, width=0.6)
        ax.tick_params(labelbottom=(r == 10), labelleft=(c == 0))
        for sp in ax.spines.values():
            sp.set_visible(True)
            sp.set_color("#222222")
            sp.set_linewidth(0.8)
        if c == 0:
            ax.text(0.29, 0.92, name, transform=ax.transAxes, fontsize=6.8,
                    ha="left", va="center", color="#222222")
            ax.set_ylabel("Posterior", fontsize=7, color="#222222")
            ax.yaxis.set_label_coords(-0.155, 0.5)
        if r == 10:
            ax.set_xlabel(AXIS_TITLES[c], fontsize=8.5, color="#222222")
            ax.xaxis.set_label_coords(0.5, -0.33)


def px(x, y):
    return x / W, 1 - y / H


serif = dict(family="Liberation Serif", fontweight="bold", color="black")
fig.text(*px(179, 86), r"$\mathbf{σ}$", ha="center", va="baseline", fontsize=56,
         color="black")
fig.text(*px(382, 82), "Y", ha="center", va="baseline", fontsize=47, **serif)
fig.text(*px(551, 78), "N", ha="center", va="baseline", fontsize=47, **serif)
fig.text(*px(586, 93), "0", ha="center", va="baseline", fontsize=33, **serif)
fig.text(*px(770, 76), "q", ha="center", va="baseline", fontsize=47, **serif)
fig.text(*px(882, 77), "τ", ha="center", va="baseline", fontsize=49, **serif)
fig.text(*px(910, 91), "v", ha="center", va="baseline", fontsize=35, **serif)
fig.text(*px(1104, 82), "i", ha="center", va="baseline", fontsize=46,
         style="italic", **serif)

fig.savefig("out.png", dpi=100, facecolor=fig.get_facecolor())
